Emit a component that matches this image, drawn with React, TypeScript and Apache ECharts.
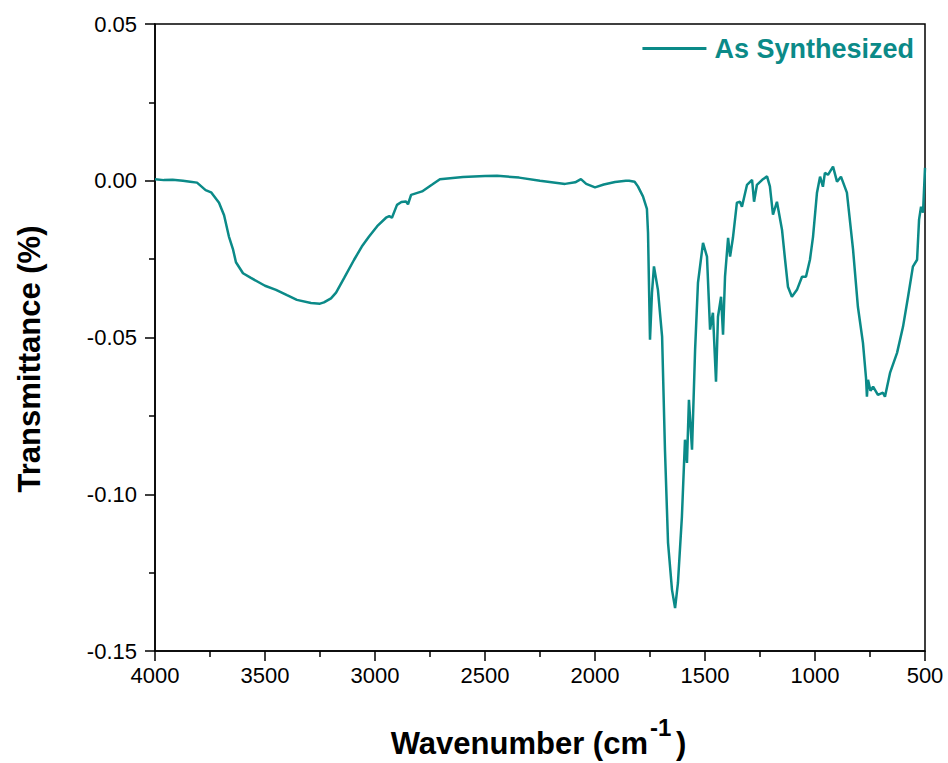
import React, { useEffect, useRef } from "react";
import * as echarts from "echarts";

const wavenumbers = [
  4000, 3960, 3920, 3873, 3840, 3809, 3770, 3745, 3709, 3686, 3664, 3645, 3632, 3600, 3564, 3500,
  3450, 3400, 3355, 3291, 3250, 3232, 3200, 3177, 3140, 3095, 3060, 3027, 2990, 2950, 2935, 2923,
  2900, 2880, 2859, 2850, 2836, 2786, 2740, 2705, 2600, 2500, 2445, 2345, 2250, 2136, 2090, 2064,
  2040, 2000, 1960, 1909, 1860, 1845, 1820, 1805, 1782, 1773, 1764, 1759, 1750, 1741, 1732, 1714,
  1695, 1682, 1668, 1650, 1636, 1623, 1605, 1591, 1582, 1573, 1559, 1545, 1532, 1509, 1491, 1477,
  1464, 1450, 1441, 1427, 1418, 1409, 1395, 1386, 1373, 1355, 1341, 1332, 1309, 1286, 1277, 1264,
  1240, 1218, 1205, 1191, 1173, 1150, 1136, 1123, 1105, 1082, 1059, 1041, 1023, 1009, 991, 977,
  964, 955, 941, 918, 900, 882, 855, 827, 805, 782, 768, 764, 759, 748, 736, 714,
  691, 682, 659, 627, 600, 577, 555, 536, 527, 518, 509, 500,
];

const transmittance = [
  0.0005, 0.0002, 0.0003, 0.0, -0.0003, -0.0006, -0.003, -0.0037, -0.007, -0.011, -0.0178, -0.022, -0.026, -0.0295, -0.031, -0.0335,
  -0.0348, -0.0365, -0.038, -0.039, -0.0392, -0.0388, -0.0375, -0.0357, -0.031, -0.0252, -0.021, -0.0178, -0.0145, -0.0118, -0.0113, -0.0118,
  -0.0077, -0.0068, -0.0066, -0.0075, -0.0045, -0.0034, -0.0012, 0.0005, 0.0012, 0.0015, 0.0016, 0.001, 0.0, -0.001, -0.0005, 0.0005,
  -0.001, -0.0021, -0.0012, -0.0004, 0.0, 0.0, -0.0003, -0.0018, -0.005, -0.007, -0.009, -0.0166, -0.0507, -0.0357, -0.0273, -0.0348,
  -0.0497, -0.0858, -0.1155, -0.1305, -0.1363, -0.1283, -0.1072, -0.0826, -0.09, -0.0699, -0.0858, -0.0539, -0.0326, -0.0198, -0.0242, -0.0475,
  -0.0421, -0.0641, -0.0434, -0.037, -0.0491, -0.0306, -0.0182, -0.0242, -0.0182, -0.007, -0.0067, -0.0083, -0.0013, 0.0003, -0.0067, -0.0013,
  0.0003, 0.0014, -0.0018, -0.0108, -0.0067, -0.0156, -0.0252, -0.0338, -0.037, -0.0348, -0.0306, -0.0306, -0.0252, -0.0179, -0.0038, 0.0013,
  -0.0019, 0.0025, 0.0019, 0.0045, -0.0003, 0.0013, -0.0038, -0.022, -0.0402, -0.0517, -0.063, -0.0689, -0.0635, -0.067, -0.0657, -0.0683,
  -0.0676, -0.0689, -0.0613, -0.0549, -0.0466, -0.037, -0.0274, -0.0252, -0.0124, -0.0083, -0.0102, 0.0041,
];

const seriesName = "As Synthesized";
const xTitle = "Wavenumber (cm";
const xTitleSup = "-1";
const xTitleEnd = ")";
const yTitle = "Transmittance (%)";

const TEAL = "#0B8A88";
const FONT = "'Liberation Sans', Arial, sans-serif";

export default function App() {
  const ref = useRef<HTMLDivElement>(null);

  useEffect(() => {
    if (!ref.current) return;
    const chart = echarts.init(ref.current, undefined, { renderer: "svg" });
    const data = wavenumbers.map((w, i) => [w, transmittance[i]]);
    chart.setOption({
      animation: false,
      backgroundColor: "#ffffff",
      grid: {
        left: 155,
        right: 23,
        top: 24,
        bottom: 112,
        show: true,
        borderColor: "#000",
        borderWidth: 1.5,
      },
      legend: {
        data: [seriesName],
        right: 29,
        top: 30,
        icon: "rect",
        itemWidth: 64,
        itemHeight: 3,
        textStyle: { fontSize: 27, fontWeight: "bold", color: TEAL, fontFamily: FONT, padding: [0, 0, 0, 3] },
      },
      xAxis: {
        type: "value",
        min: 500,
        max: 4000,
        interval: 500,
        inverse: true,
        axisLine: { show: true, onZero: false, lineStyle: { color: "#000", width: 1.5 } },
        axisTick: { show: true, inside: false, length: 10, lineStyle: { color: "#000", width: 1.5 } },
        minorTick: { show: true, splitNumber: 2, length: 6, lineStyle: { color: "#000", width: 1.5 } },
        splitLine: { show: false },
        axisLabel: {
          fontSize: 22,
          color: "#000",
          fontFamily: FONT,
          margin: 13,
          formatter: (v: number) => String(v),
        },
      },
      yAxis: {
        type: "value",
        min: -0.15,
        max: 0.05,
        interval: 0.05,
        axisLine: { show: true, onZero: false, lineStyle: { color: "#000", width: 1.5 } },
        axisTick: { show: true, inside: false, length: 10, lineStyle: { color: "#000", width: 1.5 } },
        minorTick: { show: true, splitNumber: 2, length: 6, lineStyle: { color: "#000", width: 1.5 } },
        splitLine: { show: false },
        axisLabel: {
          fontSize: 22,
          color: "#000",
          fontFamily: FONT,
          margin: 18,
          formatter: (v: number) => (Math.abs(v) < 1e-9 ? "0.00" : v.toFixed(2)),
        },
      },
      graphic: [
        {
          type: "text",
          x: 29,
          y: 359,
          rotation: Math.PI / 2,
          style: {
            text: yTitle,
            fontSize: 31,
            fontWeight: "bold",
            fontFamily: FONT,
            fill: "#000",
            align: "center",
            verticalAlign: "middle",
          },
        },
        {
          type: "text",
          x: 648,
          y: 743,
          style: {
            text: xTitle,
            fontSize: 31,
            fontWeight: "bold",
            fontFamily: FONT,
            fill: "#000",
            align: "right",
            verticalAlign: "middle",
          },
        },
        {
          type: "text",
          x: 650,
          y: 727,
          style: {
            text: xTitleSup,
            fontSize: 24,
            fontWeight: "bold",
            fontFamily: FONT,
            fill: "#000",
            align: "left",
            verticalAlign: "middle",
          },
        },
        {
          type: "text",
          x: 676,
          y: 743,
          style: {
            text: xTitleEnd,
            fontSize: 31,
            fontWeight: "bold",
            fontFamily: FONT,
            fill: "#000",
            align: "left",
            verticalAlign: "middle",
          },
        },
      ],
      series: [
        {
          name: seriesName,
          type: "line",
          data,
          showSymbol: false,
          symbol: "none",
          smooth: false,
          color: TEAL,
          lineStyle: { color: TEAL, width: 2.5 },
        },
      ],
    });
    return () => chart.dispose();
  }, []);

  return (
    <div
      ref={ref}
      style={{ position: "fixed", left: 0, top: 0, width: 948, height: 763, background: "#fff" }}
    />
  );
}
